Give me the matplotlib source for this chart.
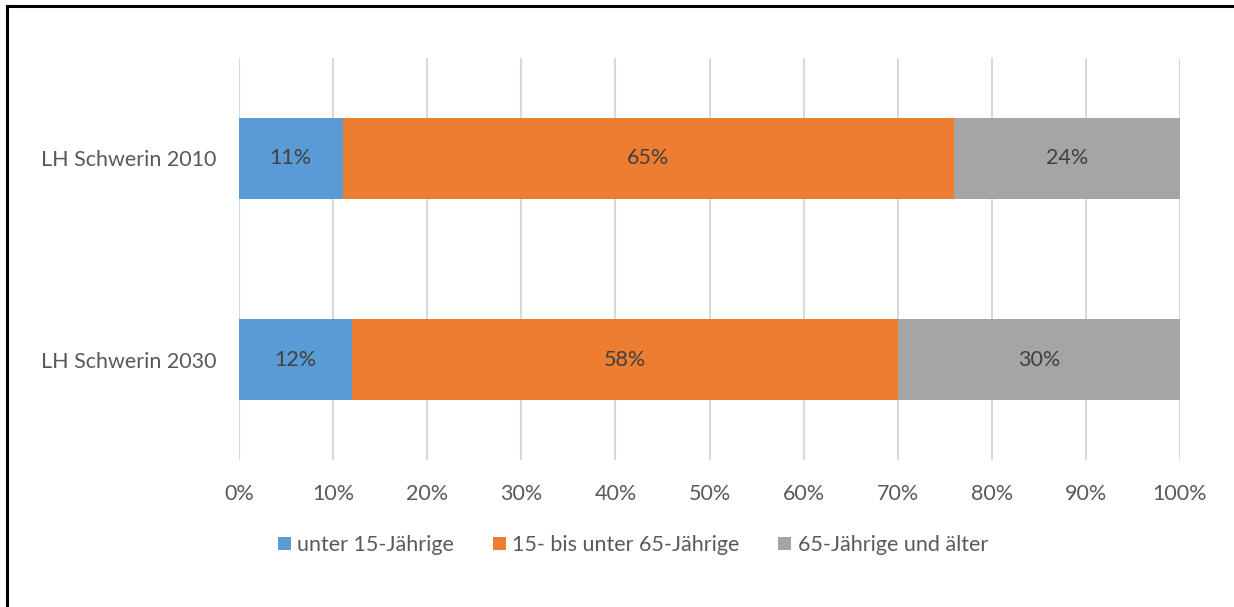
import matplotlib
matplotlib.use("Agg")
import matplotlib.pyplot as plt
from matplotlib.lines import Line2D
from matplotlib.patches import Patch
import numpy as np

categories = ["LH Schwerin 2030", "LH Schwerin 2010"]
series_names = ["unter 15-Jährige", "15- bis unter 65-Jährige", "65-Jährige und älter"]
under15 = [12, 11]
mid = [58, 65]
over65 = [30, 24]
colors = ["#5B9BD5", "#ED7D31", "#A5A5A5"]
xticks = [0, 10, 20, 30, 40, 50, 60, 70, 80, 90, 100]

plt.rcParams['font.family'] = ['Lato', 'DejaVu Sans']
txt = "#595959"
fs = 15.5

fig = plt.figure(figsize=(12.34, 6.07), dpi=100)
W, H = 1234, 607
ax = fig.add_axes([239 / W, 1 - 460 / H, (1180 - 239) / W, (460 - 58) / H])

y = np.arange(len(categories))
left = np.zeros(len(categories))
for vals, c, name in zip([under15, mid, over65], colors, series_names):
    vals = np.array(vals, dtype=float)
    ax.barh(y, vals, left=left, height=0.4, color=c, label=name, zorder=3)
    for yi, l, v in zip(y, left, vals):
        ax.text(l + v / 2, yi, f"{int(v)}%", ha="center", va="center",
                fontsize=fs, color="#404040", zorder=4)
    left += vals

ax.set_xlim(0, 100)
ax.set_ylim(-0.5, 1.5)
ax.set_xticks(xticks)
ax.set_xticklabels([f"{t}%" for t in xticks])
ax.set_yticks(y)
ax.set_yticklabels(categories)
ax.tick_params(axis="both", length=0, labelsize=fs, colors=txt)
ax.tick_params(axis="x", pad=17)
ax.tick_params(axis="y", pad=16.5)
ax.grid(axis="x", color="#D9D9D9", linewidth=1.5, zorder=0)
for s in ax.spines.values():
    s.set_visible(False)

handles = [Patch(facecolor=c, edgecolor="none") for c in colors]
fig.legend(handles, series_names, loc="center", bbox_to_anchor=(633 / W, 1 - 545 / H),
           ncol=3, frameon=False, fontsize=fs, handlelength=0.6, handleheight=0.6,
           handletextpad=0.3, columnspacing=1.8, labelcolor=txt)

# figure border (top and left only)
fig.add_artist(Line2D([6.5 / W, 6.5 / W], [0, 1 - 5.5 / H], color="black", linewidth=2.2,
                      transform=fig.transFigure))
fig.add_artist(Line2D([6.5 / W, 1], [1 - 5.5 / H, 1 - 5.5 / H], color="black", linewidth=2.2,
                      transform=fig.transFigure))

fig.savefig("out.png", dpi=100)
